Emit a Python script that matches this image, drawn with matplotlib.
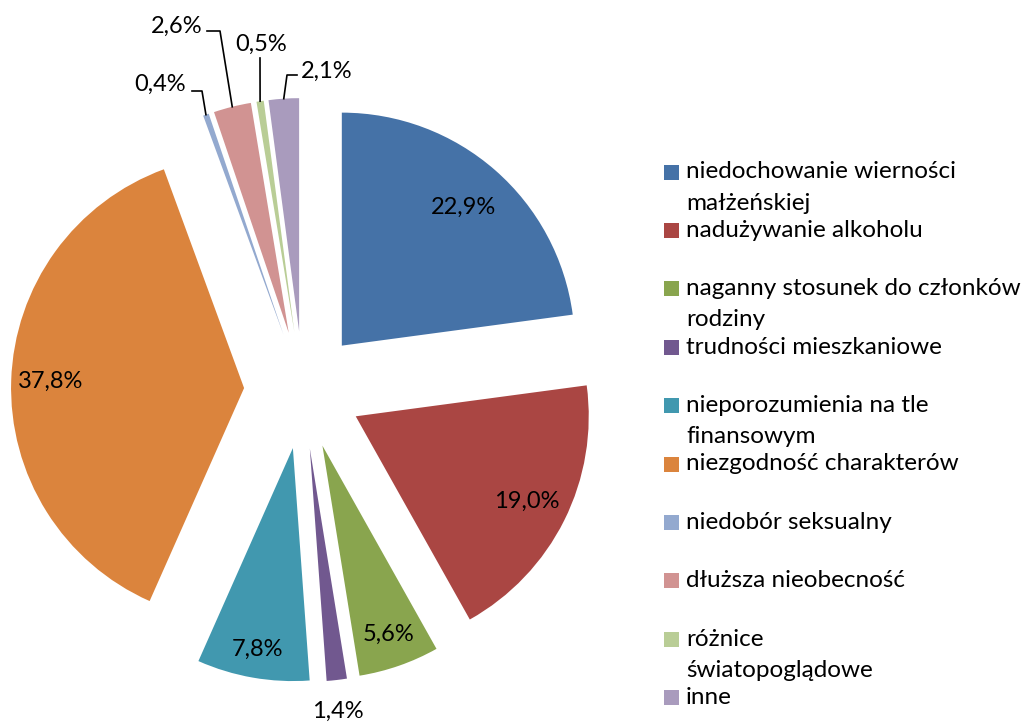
import numpy as np
import matplotlib
matplotlib.use("Agg")
import matplotlib.pyplot as plt
from matplotlib.patches import Rectangle

plt.rcParams['font.family'] = ['Lato', 'DejaVu Sans']

categories = [
    "niedochowanie wierności\nmałżeńskiej",
    "nadużywanie alkoholu",
    "naganny stosunek do członków\nrodziny",
    "trudności mieszkaniowe",
    "nieporozumienia na tle\nfinansowym",
    "niezgodność charakterów",
    "niedobór seksualny",
    "dłuższa nieobecność",
    "różnice\nświatopoglądowe",
    "inne",
]
shares = [22.9, 19.0, 5.6, 1.4, 7.8, 37.8, 0.4, 2.6, 0.5, 2.1]
colors = ["#4572A7", "#AA4643", "#89A54E", "#71588F", "#4198AF",
          "#DB843D", "#93A9CF", "#D19392", "#B9CD96", "#A99BBD"]

W, H = 1027, 722
CX, CY, R = 303, 390, 233   # pie centre and radius in pixels
FS_PCT = 17
FS_LEG = 17.5


def p(px, py):
    # pixel (from top-left) -> data coords (1 unit = pie radius)
    return (px - CX) / R, (py - CY) / R


fig = plt.figure(figsize=(W / 100, H / 100), dpi=100)
ax = fig.add_axes([0, 0, 1, 1])
wedges, _ = ax.pie(shares, colors=colors, radius=1, center=(0, 0),
                   explode=[0.253] * len(shares), startangle=-90,
                   counterclock=True, wedgeprops=dict(linewidth=0))
ax.set_xlim(-CX / R, (W - CX) / R)
ax.set_ylim((H - CY) / R, -CY / R)
ax.set_aspect('auto')
ax.axis('off')


def pct(v):
    return f"{v:.1f}%".replace('.', ',')


def mid_dir(w):
    a = np.deg2rad((w.theta1 + w.theta2) / 2)
    return np.cos(a), np.sin(a)


# labels inside the big slices (radial fraction from wedge tip)
inside = {0: 0.79, 1: 0.82, 2: 0.86, 4: 0.875, 5: 0.83}
for i, f in inside.items():
    w = wedges[i]
    dx, dy = mid_dir(w)
    ax.text(w.center[0] + f * w.r * dx, w.center[1] + f * w.r * dy,
            pct(shares[i]), ha='center', va='center', fontsize=FS_PCT)

# outside labels: (text pos, ha, leader points after the tip)
outside = {
    3: ((338, 711), 'center', []),
    6: ((186, 84), 'right', [(202, 91), (192, 91)]),
    7: ((203, 26), 'right', [(220, 31), (207, 31)]),
    8: ((261, 44), 'center', [(260, 58)]),
    9: ((301, 71), 'left', [(287, 75), (297, 75)]),
}
for i, (tpos, ha, pts) in outside.items():
    w = wedges[i]
    dx, dy = mid_dir(w)
    if pts:
        xs = [w.center[0] + w.r * dx] + [p(*q)[0] for q in pts]
        ys = [w.center[1] + w.r * dy] + [p(*q)[1] for q in pts]
        ax.plot(xs, ys, color='black', lw=1.2)
    ax.text(*p(*tpos), pct(shares[i]), ha=ha, va='center', fontsize=FS_PCT)

# legend
sq = 15
for k, (lab, col) in enumerate(zip(categories, colors)):
    y0 = 172 + 58.4 * k
    ax.add_patch(Rectangle(p(664, y0 - sq / 2), sq / R, sq / R,
                           facecolor=col, edgecolor='none'))
    for j, line in enumerate(lab.split('\n')):
        ax.text(*p(686, y0 + 31 * j), line, ha='left', va='center',
                fontsize=FS_LEG)

fig.savefig("out.png", dpi=100)
